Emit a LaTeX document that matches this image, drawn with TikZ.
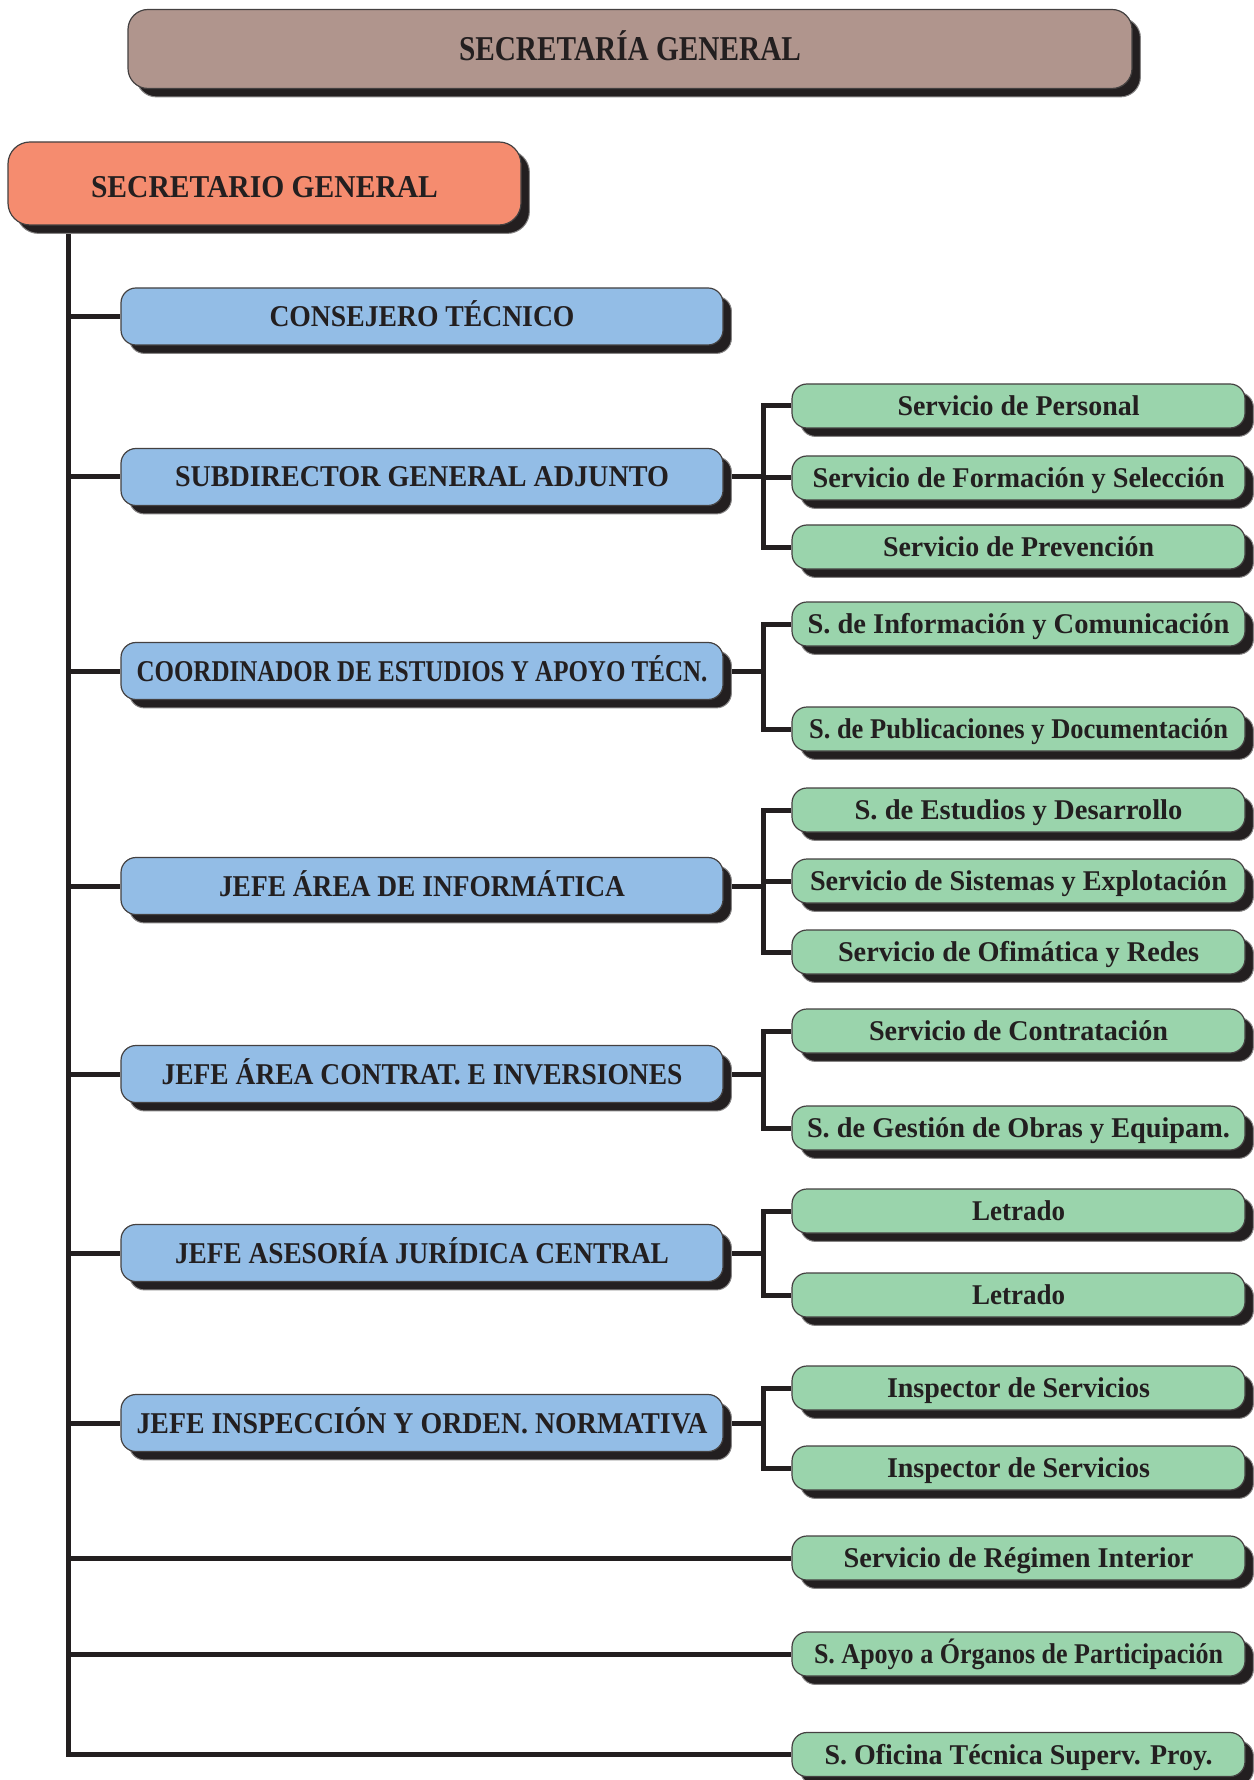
\documentclass[tikz,border=0pt]{standalone}
\usepackage{fontspec}
\setmainfont{Liberation Serif}
\usepackage{graphicx}
\usetikzlibrary{shadows}
\definecolor{brownbox}{HTML}{B0958D}
\definecolor{salmonbox}{HTML}{F58C6F}
\definecolor{bluebox}{HTML}{93BDE6}
\definecolor{greenbox}{HTML}{9AD4AC}
\definecolor{ink}{HTML}{231F20}
\newsavebox\fitbox
\newcommand\fitw[2]{\sbox\fitbox{#2}\pgfmathsetmacro\fitr{#1/\the\wd\fitbox}\scalebox{\fitr}[1]{\usebox\fitbox}}
\pgfdeclarelayer{bg}
\pgfsetlayers{bg,main}
\begin{document}
\begin{tikzpicture}[x=0.5pt,y=-0.5pt,
  base/.style={draw=ink!85, line width=0.6pt, inner sep=0pt, text=ink,
    general shadow={fill=ink, draw=ink!55, line width=0.5pt, shadow xshift=4.2pt, shadow yshift=-4.2pt}},
  topbox/.style={base, fill=brownbox, rounded corners=10pt, minimum width=502pt, minimum height=39.5pt,
    font=\fontsize{17.4}{18}\selectfont\bfseries, text height=11.5pt, text depth=0pt},
  headbox/.style={base, fill=salmonbox, rounded corners=11pt, minimum width=256.5pt, minimum height=41.5pt,
    font=\fontsize{15.9}{17}\selectfont\bfseries, text height=14pt, text depth=0pt},
  bluenode/.style={base, fill=bluebox, rounded corners=7.5pt, minimum width=301pt, minimum height=28.5pt,
    font=\fontsize{15.1}{16}\selectfont\bfseries, text height=10pt, text depth=0pt},
  greennode/.style={base, fill=greenbox, rounded corners=7.5pt, minimum width=226.5pt, minimum height=22pt,
    font=\fontsize{14.3}{15}\selectfont\bfseries, text height=9.5pt, text depth=0pt},
  conn/.style={draw=ink, line width=2.5pt, line join=miter}
]
\useasboundingbox (0,0) rectangle (1253,1780);

% top
\node[topbox] (top) at (630,49) {\fitw{171pt}{SECRETARÍA GENERAL}};
\node[headbox] (sg) at (264.5,183.5) {\fitw{173.5pt}{SECRETARIO GENERAL}};

% blue level
\node[bluenode] (b1) at (422,316.5) {\fitw{152.5pt}{CONSEJERO TÉCNICO}};
\node[bluenode] (b2) at (422,477) {\fitw{247pt}{SUBDIRECTOR GENERAL ADJUNTO}};
\node[bluenode] (b3) at (422,671) {\fitw{285.5pt}{COORDINADOR DE ESTUDIOS Y APOYO TÉCN.}};
\node[bluenode] (b4) at (422,886) {\fitw{203pt}{JEFE ÁREA DE INFORMÁTICA}};
\node[bluenode] (b5) at (422,1074) {\fitw{260.5pt}{JEFE ÁREA CONTRAT. E INVERSIONES}};
\node[bluenode] (b6) at (422,1253) {\fitw{247pt}{JEFE ASESORÍA JURÍDICA CENTRAL}};
\node[bluenode] (b7) at (422,1423) {\fitw{285.5pt}{JEFE INSPECCIÓN Y ORDEN. NORMATIVA}};

% green level
\node[greennode] (g1) at (1018.5,406) {\fitw{121pt}{Servicio de Personal}};
\node[greennode] (g2) at (1018.5,478) {\fitw{206pt}{Servicio de Formación y Selección}};
\node[greennode] (g3) at (1018.5,547) {\fitw{135.5pt}{Servicio de Prevención}};
\node[greennode] (g4) at (1018.5,624) {\fitw{211pt}{S. de Información y Comunicación}};
\node[greennode] (g5) at (1018.5,729) {\fitw{209.5pt}{S. de Publicaciones y Documentación}};
\node[greennode] (g6) at (1018.5,810) {\fitw{164pt}{S. de Estudios y Desarrollo}};
\node[greennode] (g7) at (1018.5,881) {\fitw{208.5pt}{Servicio de Sistemas y Explotación}};
\node[greennode] (g8) at (1018.5,952) {\fitw{180.5pt}{Servicio de Ofimática y Redes}};
\node[greennode] (g9) at (1018.5,1031) {\fitw{149.5pt}{Servicio de Contratación}};
\node[greennode] (g10) at (1018.5,1128) {\fitw{211.5pt}{S. de Gestión de Obras y Equipam.}};
\node[greennode] (g11) at (1018.5,1211) {\fitw{46.5pt}{Letrado}};
\node[greennode] (g12) at (1018.5,1295) {\fitw{46.5pt}{Letrado}};
\node[greennode] (g13) at (1018.5,1388) {\fitw{131.5pt}{Inspector de Servicios}};
\node[greennode] (g14) at (1018.5,1468) {\fitw{131.5pt}{Inspector de Servicios}};
\node[greennode] (g15) at (1018.5,1558) {\fitw{175pt}{Servicio de Régimen Interior}};
\node[greennode] (g16) at (1018.5,1654) {\fitw{204.5pt}{S. Apoyo a Órganos de Participación}};
\node[greennode] (g17) at (1018.5,1754.5) {\fitw{194pt}{S. Oficina Técnica Superv. Proy.}};

\coordinate (t0) at (68,0);
\coordinate (jx) at (763,0);

\begin{pgfonlayer}{bg}
  % trunk
  \draw[conn] (t0 |- sg.south) |- (g17.west);
  \foreach \b in {b1,b2,b3,b4,b5,b6,b7} {
    \draw[conn] (t0 |- \b.west) -- (\b.west);
  }
  \foreach \g in {g15,g16} {
    \draw[conn] (t0 |- \g.west) -- (\g.west);
  }
  % sub-branches
  \draw[conn] (b2.east) -- (jx |- b2.east);
  \draw[conn] (g1.west) -| (jx |- g3.west) -- (g3.west);
  \draw[conn] (jx |- g2.west) -- (g2.west);

  \draw[conn] (b3.east) -- (jx |- b3.east);
  \draw[conn] (g4.west) -| (jx |- g5.west) -- (g5.west);

  \draw[conn] (b4.east) -- (jx |- b4.east);
  \draw[conn] (g6.west) -| (jx |- g8.west) -- (g8.west);
  \draw[conn] (jx |- g7.west) -- (g7.west);

  \draw[conn] (b5.east) -- (jx |- b5.east);
  \draw[conn] (g9.west) -| (jx |- g10.west) -- (g10.west);

  \draw[conn] (b6.east) -- (jx |- b6.east);
  \draw[conn] (g11.west) -| (jx |- g12.west) -- (g12.west);

  \draw[conn] (b7.east) -- (jx |- b7.east);
  \draw[conn] (g13.west) -| (jx |- g14.west) -- (g14.west);
\end{pgfonlayer}
\end{tikzpicture}
\end{document}
